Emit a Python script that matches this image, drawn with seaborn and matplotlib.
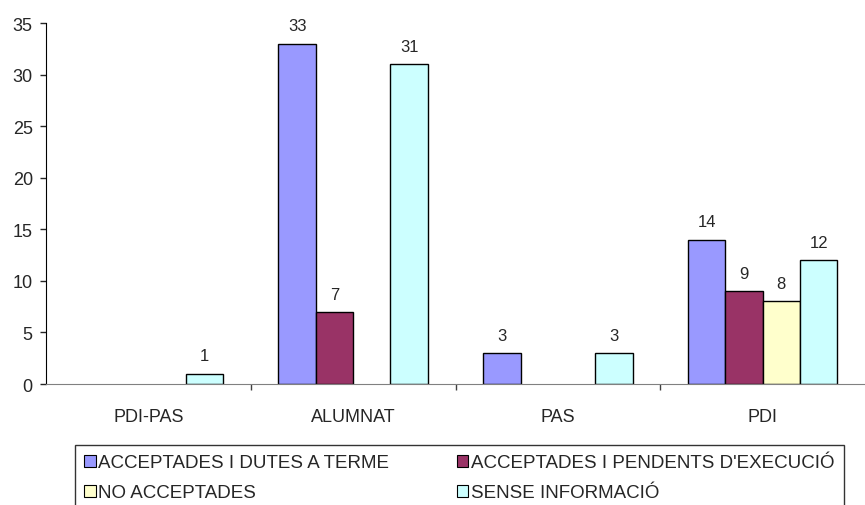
import pandas as pd
import seaborn as sns
import matplotlib.pyplot as plt
from matplotlib.patches import Patch
from matplotlib.ticker import FixedLocator

# data
groups = ['PDI-PAS', 'ALUMNAT', 'PAS', 'PDI']
series = ['ACCEPTADES I DUTES A TERME', "ACCEPTADES I PENDENTS D'EXECUCIÓ",
          'NO ACCEPTADES', 'SENSE INFORMACIÓ']
dutes = [0, 33, 3, 14]
pendents = [0, 7, 0, 9]
no_acceptades = [0, 0, 0, 8]
sense_info = [1, 31, 3, 12]
colors = ['#9999FF', '#993366', '#FFFFCC', '#CCFFFF']

rows = []
for s, vals in zip(series, [dutes, pendents, no_acceptades, sense_info]):
    for g, v in zip(groups, vals):
        if v > 0:
            rows.append({'Grup': g, 'Serie': s, 'Valor': v})
df = pd.DataFrame(rows)

sns.set_style('white')
plt.rcParams['font.family'] = ['Liberation Sans', 'DejaVu Sans']

fig = plt.figure(figsize=(8.65, 5.06), dpi=100)
ax = fig.add_axes([46 / 865, 1 - 385 / 506, 1 - 46 / 865, (385 - 24) / 506])

sns.barplot(ax=ax, data=df, x='Grup', y='Valor', hue='Serie',
            order=groups, hue_order=series, palette=colors,
            width=0.73, edgecolor='black', linewidth=1, saturation=1,
            legend=False)

# value labels above the bars
for p in ax.patches:
    h = p.get_height()
    if h > 0:
        ax.annotate(f'{int(h)}', (p.get_x() + p.get_width() / 2, h),
                    xytext=(0, 9.5), textcoords='offset points',
                    ha='center', va='baseline', fontsize=12)

ax.set_xlim(-0.5, 3.5)
ax.set_ylim(0, 35)
ax.set_yticks(range(0, 36, 5))
ax.set_xlabel('')
ax.set_ylabel('')
ax.tick_params(axis='y', which='major', left=True, length=4.5, width=1,
               labelsize=13, pad=5)
ax.tick_params(axis='x', which='major', bottom=False, labelsize=13, pad=14)
ax.xaxis.set_minor_locator(FixedLocator([0.5, 1.5, 2.5]))
ax.tick_params(axis='x', which='minor', bottom=True, length=4.5, width=1,
               color='#404040')

for side in ['top', 'right']:
    ax.spines[side].set_visible(False)
ax.spines['left'].set_color('black')
ax.spines['bottom'].set_color('#808080')

# legend filled row by row like the original (column-major in matplotlib)
order = [0, 2, 1, 3]
handles = [Patch(facecolor=colors[i], edgecolor='black', linewidth=0.8) for i in order]
labels = [series[i] for i in order]
leg = fig.legend(handles, labels, loc='upper left', ncol=2, mode='expand',
                 bbox_to_anchor=(75 / 865, 1 - 446 / 506, (844 - 75) / 865, 0.0),
                 fontsize=13.5, frameon=True, fancybox=False, handlelength=0.6,
                 handleheight=0.6, handletextpad=0.15, borderpad=0.5,
                 labelspacing=0.7, borderaxespad=0)
leg.get_frame().set_edgecolor('black')
leg.get_frame().set_linewidth(1)

fig.savefig('out.png', dpi=100)
